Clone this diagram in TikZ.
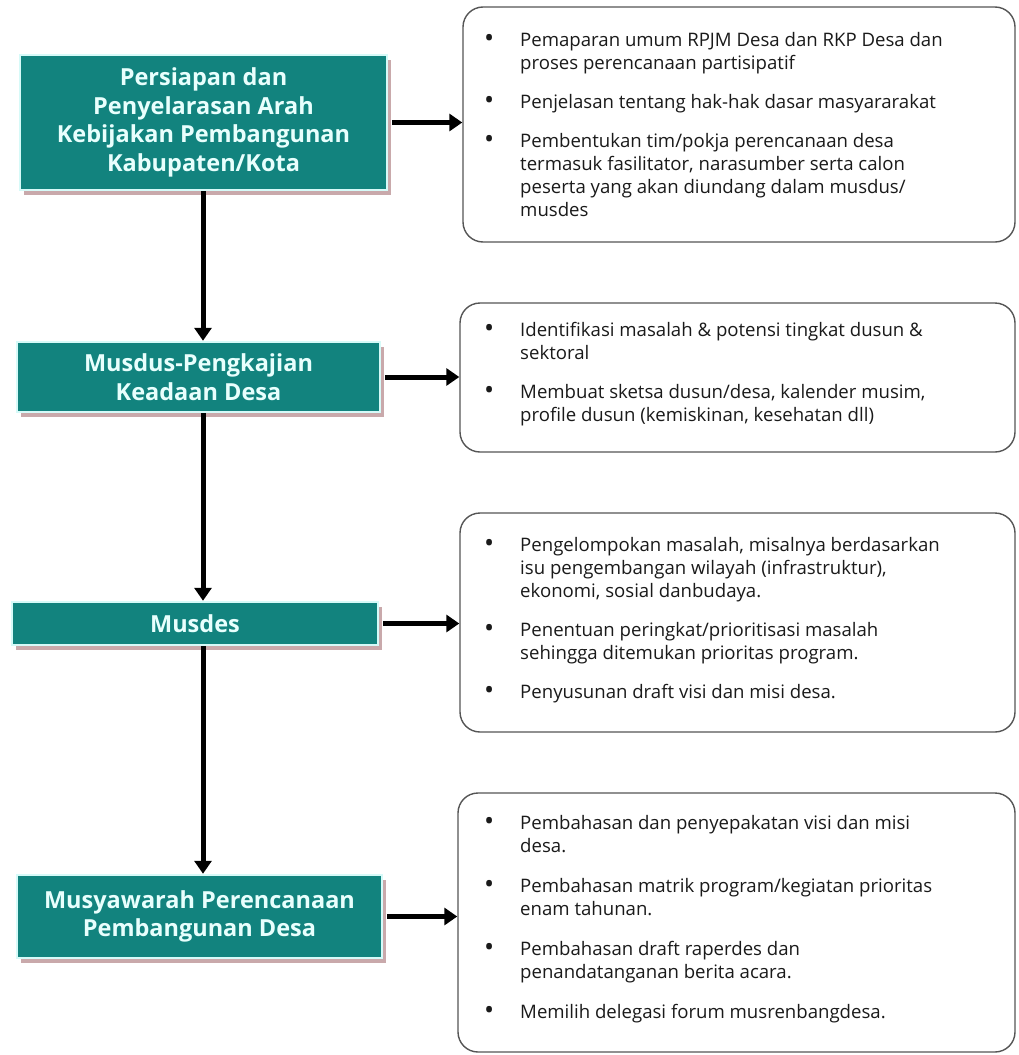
\documentclass[tikz,border=0pt]{standalone}
\usepackage{fontspec}
\setmainfont{Open Sans}
\usetikzlibrary{arrows.meta,shadows,calc}

\definecolor{tealbox}{HTML}{12837E}
\definecolor{tealrim}{HTML}{D6FAF8}
\definecolor{tealshade}{HTML}{C9A9AB}
\definecolor{titletxt}{HTML}{E8FFFD}
\definecolor{bodytxt}{HTML}{1A1A1A}
\definecolor{frame}{HTML}{555555}

\newcommand{\bul}{{\fontsize{27}{23}\selectfont\raisebox{-1.5pt}{\textbullet}}}

\tikzset{
  stage/.style={draw=tealrim, line width=2.5pt, fill=tealbox, text=titletxt,
    font=\fontsize{23.5}{28.5}\selectfont\bfseries, align=center, inner sep=0pt,
    general shadow={fill=tealshade, shadow xshift=4pt, shadow yshift=-5pt}},
  notebox/.style={draw=frame, line width=1.4pt, rounded corners=20pt, fill=white, inner sep=0pt},
  notetext/.style={anchor=base west, inner sep=0pt, text=bodytxt,
    font=\fontsize{18.6}{23}\selectfont},
  flow/.style={line width=5pt, -{Triangle[width=17pt,length=13pt]}},
}

\newenvironment{notes}{\begin{tabular}[t]{@{}p{36pt}@{}l@{}}}{\end{tabular}}

\begin{document}
\begin{tikzpicture}[x=1pt, y=-1pt]
\useasboundingbox (0,0) rectangle (1018,1055);

% stages on the left
\node[stage, minimum width=367pt, minimum height=135pt] (s1) at (203.5,122.5)
  {Persiapan dan\\Penyelarasan Arah\\Kebijakan Pembangunan\\Kabupaten/Kota};
\node[stage, minimum width=363pt, minimum height=70pt] (s2) at (198.5,377)
  {Musdus-Pengkajian\\Keadaan Desa};
\node[stage, minimum width=366pt, minimum height=43pt] (s3) at (195,623.5)
  {Musdes};
\node[stage, minimum width=365pt, minimum height=83pt] (s4) at (199.5,916.5)
  {Musyawarah Perencanaan\\Pembangunan Desa};

% note boxes on the right
\node[notebox, minimum width=552pt, minimum height=235pt] (n1) at (739,124.5) {};
\node[notebox, minimum width=555pt, minimum height=149pt] (n2) at (737.5,377.5) {};
\node[notebox, minimum width=555pt, minimum height=219pt] (n3) at (737.5,622.5) {};
\node[notebox, minimum width=557pt, minimum height=259pt] (n4) at (736.5,922.5) {};

\node[notetext] (t1) at (484,46) {\begin{notes}
\bul & Pemaparan umum RPJM Desa dan RKP Desa dan\\
     & proses perencanaan partisipatif\\[16pt]
\bul & Penjelasan tentang hak-hak dasar masyararakat\\[16pt]
\bul & Pembentukan tim/pokja perencanaan desa\\
     & termasuk fasilitator, narasumber serta calon\\
     & peserta yang akan diundang dalam musdus/\\
     & musdes
\end{notes}};

\node[notetext] (t2) at (484,336) {\begin{notes}
\bul & Identifikasi masalah \& potensi tingkat dusun \&\\
     & sektoral\\[16pt]
\bul & Membuat sketsa dusun/desa, kalender musim,\\
     & profile dusun (kemiskinan, kesehatan dll)
\end{notes}};

\node[notetext] (t3) at (484,551) {\begin{notes}
\bul & Pengelompokan masalah, misalnya berdasarkan\\
     & isu pengembangan wilayah (infrastruktur),\\
     & ekonomi, sosial danbudaya.\\[16pt]
\bul & Penentuan peringkat/prioritisasi masalah\\
     & sehingga ditemukan prioritas program.\\[16pt]
\bul & Penyusunan draft visi dan misi desa.
\end{notes}};

\node[notetext] (t4) at (484,829) {\begin{notes}
\bul & Pembahasan dan penyepakatan visi dan misi\\
     & desa.\\[17pt]
\bul & Pembahasan matrik program/kegiatan prioritas\\
     & enam tahunan.\\[17pt]
\bul & Pembahasan draft raperdes dan\\
     & penandatanganan berita acara.\\[17pt]
\bul & Memilih delegasi forum musrenbangdesa.
\end{notes}};

% connectors
\coordinate (spine) at (203,0);
\draw[flow] (s1.south -| spine) -- (s2.north -| spine);
\draw[flow] (s2.south -| spine) -- (s3.north -| spine);
\draw[flow] (s3.south -| spine) -- (s4.north -| spine);

\draw[flow] ([xshift=4pt]s1.east) -- (s1.east -| n1.west);
\draw[flow] ([xshift=4pt]s2.east) -- (s2.east -| n2.west);
\draw[flow] ([xshift=4pt]s3.east) -- (s3.east -| n3.west);
\draw[flow] ([xshift=4pt]s4.east) -- (s4.east -| n4.west);
\end{tikzpicture}
\end{document}
